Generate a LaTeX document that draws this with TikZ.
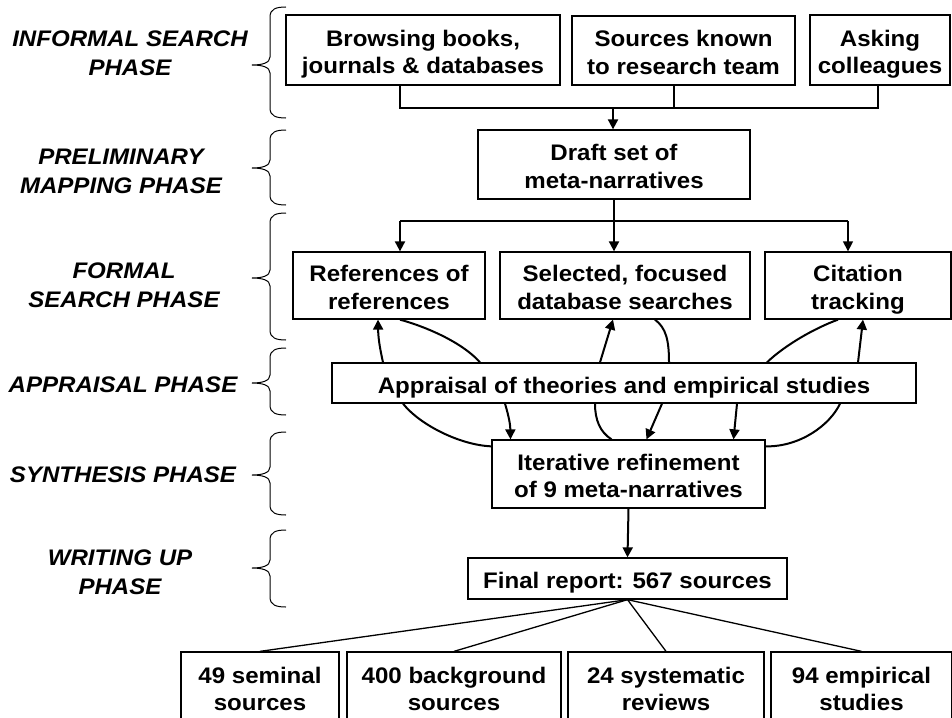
\documentclass[tikz,border=0pt]{standalone}
\usepackage{fontspec}
\setmainfont{Liberation Sans}[FakeStretch=1.07]
\usetikzlibrary{arrows.meta,calc}
\newcommand{\bxfont}{\fontsize{22.5}{27.5}\selectfont\bfseries}
\newcommand{\lbfont}{\fontsize{22.5}{29}\selectfont\bfseries\itshape}
\newcommand{\tstr}{\rule{0pt}{26pt}}
\newcommand{\bstr}{\rule[-6pt]{0pt}{6pt}}
\newcommand{\phasebrace}[3]{\draw[brc] (286,#1) .. controls (276,#1) and (270,{#1+2}) .. (270,{#1+10}) -- (270,{#2-8}) .. controls (270,{#2-2}) and (262,#2) .. (252,#2) .. controls (262,#2) and (270,{#2+2}) .. (270,{#2+8}) -- (270,{#3-10}) .. controls (270,{#3-2}) and (276,#3) .. (286,#3);}
\begin{document}
\begin{tikzpicture}[x=1pt,y=-1pt,
 box/.style={draw, line width=1.3pt, inner sep=0pt, align=center, font=\bxfont},
 lbl/.style={align=center, font=\lbfont, inner sep=0pt},
 brc/.style={line width=1pt},
 ln/.style={line width=1.3pt},
 thk/.style={line width=2pt},
 arr/.style={-{Triangle[length=10pt,width=10pt]}},
 crv/.style={line width=2pt}
]
\clip (0,0) rectangle (952,717);
\fill[white] (0,0) rectangle (952,717);

% phase labels
\node[lbl] (lInf) at (130,53.5) {INFORMAL SEARCH\\PHASE};
\node[lbl] (lPre) at (121,171) {PRELIMINARY\\MAPPING PHASE};
\node[lbl] (lFor) at (124,285) {FORMAL\\SEARCH PHASE};
\node[lbl] (lApp) at (123,385) {APPRAISAL PHASE};
\node[lbl] (lSyn) at (123,475) {SYNTHESIS PHASE};
\node[lbl] (lWri) at (120,572.5) {WRITING UP\\PHASE};

% braces
\phasebrace{7}{65}{118}
\phasebrace{130}{168}{205}
\phasebrace{213}{278}{340}
\phasebrace{348}{383}{415}
\phasebrace{432}{475}{515}
\phasebrace{530}{568}{607}

% boxes
\node[box, minimum width=274pt, minimum height=70pt] (browse) at (423,50) {\tstr Browsing books,\\journals \& databases\bstr};
\node[box, minimum width=223pt, minimum height=69pt] (known) at (683.5,50.5) {\tstr Sources known\\to research team\bstr};
\node[box, minimum width=140pt, minimum height=70pt] (ask) at (880,50) {\tstr Asking\\colleagues\bstr};
\node[box, minimum width=272pt, minimum height=69pt] (draft) at (614,164.5) {\tstr Draft set of\\meta-narratives\bstr};
\node[box, minimum width=192pt, minimum height=67pt] (refs) at (389,285.5) {\tstr References of\\references\bstr};
\node[box, minimum width=250pt, minimum height=67pt] (sel) at (625,285.5) {\tstr Selected, focused\\database searches\bstr};
\node[box, minimum width=186pt, minimum height=67pt] (cit) at (858,285.5) {\tstr Citation\\tracking\bstr};
\node[box, minimum width=584pt, minimum height=40pt] (appr) at (624,383) {\tstr Appraisal of theories and empirical studies\bstr};
\node[box, minimum width=273pt, minimum height=68pt] (iter) at (628.5,474) {\tstr Iterative refinement\\of 9 meta-narratives\bstr};
\node[box, minimum width=319pt, minimum height=41pt] (final) at (627.5,578.5) {\tstr Final report: 567 sources\bstr};
\node[box, minimum width=158pt, minimum height=70pt] (b1) at (260,687) {\tstr 49 seminal\\sources\bstr};
\node[box, minimum width=214pt, minimum height=70pt] (b2) at (454,687) {\tstr 400 background\\sources\bstr};
\node[box, minimum width=196pt, minimum height=70pt] (b3) at (666,687) {\tstr 24 systematic\\reviews\bstr};
\node[box, minimum width=181pt, minimum height=70pt] (b4) at (861.5,687) {\tstr 94 empirical\\studies\bstr};

% informal -> draft
\coordinate (busL) at (400,108);
\coordinate (busR) at (878,108);
\coordinate (busK) at (674,108);
\coordinate (busM) at (613,108);
\draw[ln] (browse.south -| busL) -- (busL) -- (busR) -- (ask.south -| busR);
\draw[ln] (known.south -| busK) -- (busK);
\draw[thk,arr] (busM) -- (draft.north -| busM);

% draft -> formal search
\coordinate (splL) at (400,221);
\coordinate (splR) at (848,221);
\draw[thk] (draft.south) -- (draft.south |- splL);
\draw[ln] (splL) -- (splR);
\draw[thk,arr] (splL) -- (refs.north -| splL);
\draw[thk,arr] (draft.south |- splL) -- (sel.north -| draft.south);
\draw[ln,arr] (splR) -- (cit.north -| splR);

% formal <-> appraisal
\draw[crv,arr] ($(appr.north)+(-241,0)$) to[bend left=6] ($(refs.south)+(-11,0)$);
\draw[crv] ($(refs.south)+(11,0)$) .. controls (420,325) and (460,340) .. ($(appr.north)+(-144,0)$);
\draw[crv,arr] ($(appr.north)+(-24,0)$) -- ($(sel.south)+(-12,0)$);
\draw[crv] ($(sel.south)+(30,0)$) .. controls (666,328) and (669,340) .. ($(appr.north)+(45,0)$);
\draw[crv] ($(appr.north)+(143,0)$) .. controls (785,345) and (815,328) .. ($(cit.south)+(-20,0)$);
\draw[crv,arr] ($(appr.north)+(234,0)$) -- ($(cit.south)+(5,0)$);

% appraisal <-> synthesis
\draw[crv] ($(appr.south)+(-221,0)$) .. controls (420,425) and (460,445) .. ($(iter.north west)+(0,7)$);
\draw[crv,arr] ($(appr.south)+(-119,0)$) to[bend left=8] ($(iter.north)+(-118,0)$);
\draw[crv] ($(appr.south)+(-29,0)$) .. controls (595,420) and (600,432) .. ($(iter.north)+(-17,0)$);
\draw[crv,arr] ($(appr.south)+(38,0)$) -- ($(iter.north)+(18,0)$);
\draw[crv,arr] ($(appr.south)+(113,0)$) -- ($(iter.north)+(105,0)$);
\draw[crv] ($(appr.south)+(216,0)$) .. controls (830,425) and (800,447) .. ($(iter.north east)+(0,7)$);

% synthesis -> report -> outputs
\draw[thk,arr] (iter.south) -- (final.north);
\draw[ln] (final.south) -- (b1.north);
\draw[ln] (final.south) -- (b2.north);
\draw[ln] (final.south) -- (b3.north);
\draw[ln] (final.south) -- (b4.north);
\end{tikzpicture}
\end{document}
